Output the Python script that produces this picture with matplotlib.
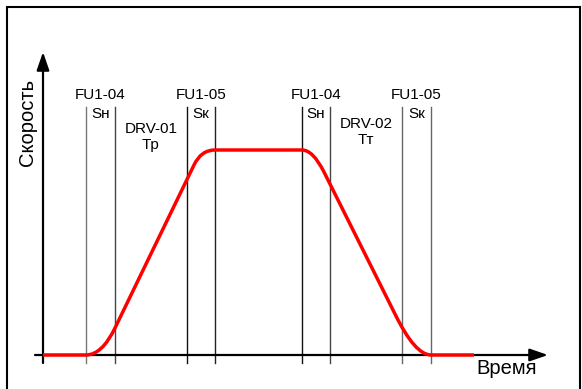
import matplotlib
matplotlib.use('Agg')
import matplotlib.pyplot as plt
from matplotlib.path import Path
from matplotlib.patches import PathPatch, Rectangle

plt.rcParams['font.family'] = ['Liberation Sans', 'DejaVu Sans']

# speed profile (time, speed) incl. corner control points
profile_t = [0, 43, 59, 72, 151, 158, 172, 259, 270, 281, 352, 372, 388, 431]
profile_v = [0, 0, 0, 27, 190, 205, 205, 205, 205, 183, 41, 0, 0, 0]
profile_codes = [Path.MOVETO, Path.LINETO, Path.CURVE3, Path.CURVE3,
                 Path.LINETO, Path.CURVE3, Path.CURVE3, Path.LINETO,
                 Path.CURVE3, Path.CURVE3, Path.LINETO, Path.CURVE3,
                 Path.CURVE3, Path.LINETO]

# switching moments
marks = [43, 72, 144, 172, 259, 287, 359, 388]
mark_colors = ['#777777', '#444444', '#111111', '#222222',
               '#111111', '#444444', '#666666', '#666666']

fu_labels = ['FU1-04', 'FU1-05', 'FU1-04', 'FU1-05']
s_labels = ['Sн', 'Sк', 'Sн', 'Sк']
drv_labels = ['DRV-01\nTр', 'DRV-02\nTт']

fig = plt.figure(figsize=(5.82, 3.89), dpi=100)
ax = fig.add_axes([0, 0, 1, 1])
ax.set_xlim(-43, 539)
ax.set_ylim(-34, 355)
ax.axis('off')

# outer frame
ax.add_patch(Rectangle((7 / 582, -0.05), 573 / 582, 1.05 - 7 / 389,
                       transform=ax.transAxes, fill=False, lw=1.5,
                       edgecolor='black', clip_on=False))

# vertical marker lines
for x, c in zip(marks, mark_colors):
    ax.plot([x, x], [-8, 248], color=c, lw=1.0, zorder=2)

# axes with arrows
arrow = dict(arrowstyle='-|>,head_length=1.1,head_width=0.38', lw=1.6,
             color='black', shrinkA=0, shrinkB=0)
ax.annotate('', xy=(505, 0), xytext=(-8, 0), arrowprops=arrow, zorder=3)
ax.annotate('', xy=(0, 303), xytext=(0, -8), arrowprops=arrow, zorder=3)

# speed curve
verts = list(zip(profile_t, profile_v))
ax.add_patch(PathPatch(Path(verts, profile_codes), fill=False,
                       edgecolor='red', lw=2.5, capstyle='butt', zorder=4))

# labels
for i in range(4):
    xc = (marks[2 * i] + marks[2 * i + 1]) / 2
    ax.text(xc, 260, fu_labels[i], ha='center', va='center', fontsize=11)
    ax.text(xc, 241, s_labels[i], ha='center', va='center', fontsize=11)
for i, lab in enumerate(drv_labels):
    xc = (marks[4 * i + 1] + marks[4 * i + 2]) / 2
    yc = 218 if i == 0 else 223
    ax.text(xc, yc, lab, ha='center', va='center', fontsize=11,
            linespacing=1.15)

ax.text(-16, 233, 'Скорость', rotation=90, ha='center', va='center',
        fontsize=14.5)
ax.text(464, -14, 'Время', ha='center', va='center', fontsize=14.5)

fig.savefig('out.png', dpi=100)
